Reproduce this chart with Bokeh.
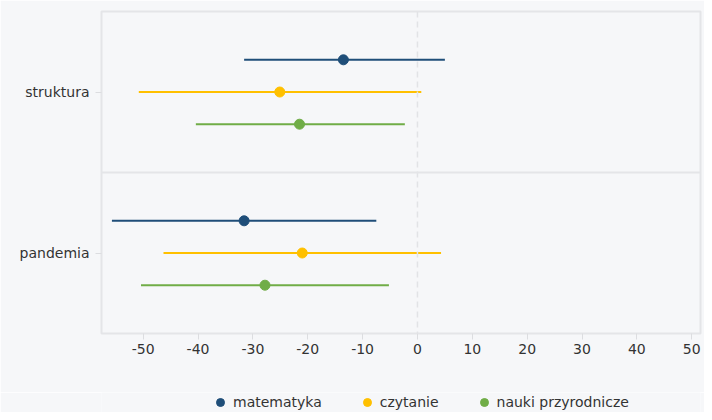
from bokeh.plotting import figure
from bokeh.layouts import column
from bokeh.models import ColumnDataSource, FixedTicker, Span, Legend, LegendItem, Range1d
from bokeh.embed import file_html
from bokeh.resources import INLINE

categories = ["pandemia", "struktura"]
series = ["matematyka", "czytanie", "nauki przyrodnicze"]
colors = ["#1f4e79", "#ffc000", "#70ad47"]

# values per series: [pandemia, struktura]
means = {
    "matematyka": [-31.6, -13.5],
    "czytanie": [-21.0, -25.1],
    "nauki przyrodnicze": [-27.8, -21.5],
}
lows = {
    "matematyka": [-55.7, -31.6],
    "czytanie": [-46.3, -50.8],
    "nauki przyrodnicze": [-50.4, -40.4],
}
highs = {
    "matematyka": [-7.5, 5.0],
    "czytanie": [4.3, 0.7],
    "nauki przyrodnicze": [-5.2, -2.3],
}
x_ticks = [-50, -40, -30, -20, -10, 0, 10, 20, 30, 40, 50]

offsets = [0.2, 0.0, -0.2]
cat_pos = [0.5, 1.5]

bg = "#f6f7f9"
FONT = "DejaVu Sans"
TXT = "#333333"

p = figure(width=704, height=392, output_backend="svg", toolbar_location=None,
           x_range=Range1d(-57.6, 51.6), y_range=Range1d(0, 2),
           min_border_left=101, min_border_right=4, min_border_top=11, min_border_bottom=59)
p.background_fill_color = bg
p.border_fill_color = bg
p.outline_line_color = "#e4e5e8"
p.outline_line_width = 2
p.grid.visible = False

# zero line
p.add_layout(Span(location=0, dimension="height", line_color="#e2e3e6",
                  line_width=1.5, line_dash="6 4"))
# divider between categories
p.add_layout(Span(location=1, dimension="width", line_color="#e4e5e8", line_width=2))

for s, c, off in zip(series, colors, offsets):
    ys = [cp + off for cp in cat_pos]
    src = ColumnDataSource(dict(y=ys, m=means[s], lo=lows[s], hi=highs[s]))
    p.segment(x0="lo", x1="hi", y0="y", y1="y", source=src, line_color=c, line_width=2)
    p.scatter(x="m", y="y", source=src, size=10, fill_color=c, line_color=c)

p.xaxis.ticker = FixedTicker(ticks=x_ticks)
p.xaxis.major_label_overrides = {t: str(t) for t in x_ticks}
p.xaxis.axis_line_color = None
p.xaxis.major_tick_line_color = "#dcdde0"
p.xaxis.major_tick_out = 6
p.xaxis.major_tick_in = 0
p.xaxis.minor_tick_line_color = None
p.xaxis.major_label_text_font = FONT
p.xaxis.major_label_text_font_size = "14px"
p.xaxis.major_label_text_color = TXT
p.xaxis.major_label_standoff = 4

p.yaxis.ticker = FixedTicker(ticks=cat_pos)
p.yaxis.major_label_overrides = {0.5: categories[0], 1.5: categories[1]}
p.yaxis.axis_line_color = None
p.yaxis.major_tick_line_color = "#dcdde0"
p.yaxis.major_tick_out = 6
p.yaxis.major_tick_in = 0
p.yaxis.minor_tick_line_color = None
p.yaxis.major_label_text_font = FONT
p.yaxis.major_label_text_font_size = "14px"
p.yaxis.major_label_text_color = TXT
p.yaxis.major_label_standoff = 6

# legend in a small strip below the chart
lg = figure(width=704, height=20, output_backend="svg", toolbar_location=None,
            x_axis_type=None, y_axis_type=None, x_range=Range1d(0, 1), y_range=Range1d(0, 1),
            min_border_left=101, min_border_right=4, min_border_top=0, min_border_bottom=0)
lg.background_fill_color = bg
lg.border_fill_color = bg
lg.outline_line_color = None
lg.grid.visible = False
items = []
for s, c in zip(series, colors):
    # point kept outside the visible range; only its legend swatch is shown
    r = lg.scatter(x=[-10], y=[-10], size=9, fill_color=c, line_color=c)
    items.append(LegendItem(label=s, renderers=[r]))
legend = Legend(items=items, orientation="horizontal", location=(108, 0),
                background_fill_alpha=0, border_line_color=None,
                label_text_font=FONT, label_text_font_size="14px",
                label_text_color=TXT, glyph_width=22, glyph_height=20,
                label_height=20, spacing=34, label_standoff=2, padding=0, margin=0)
lg.add_layout(legend, "center")

layout = column(p, lg, spacing=0)
open("out.html", "w").write(file_html(layout, INLINE))
